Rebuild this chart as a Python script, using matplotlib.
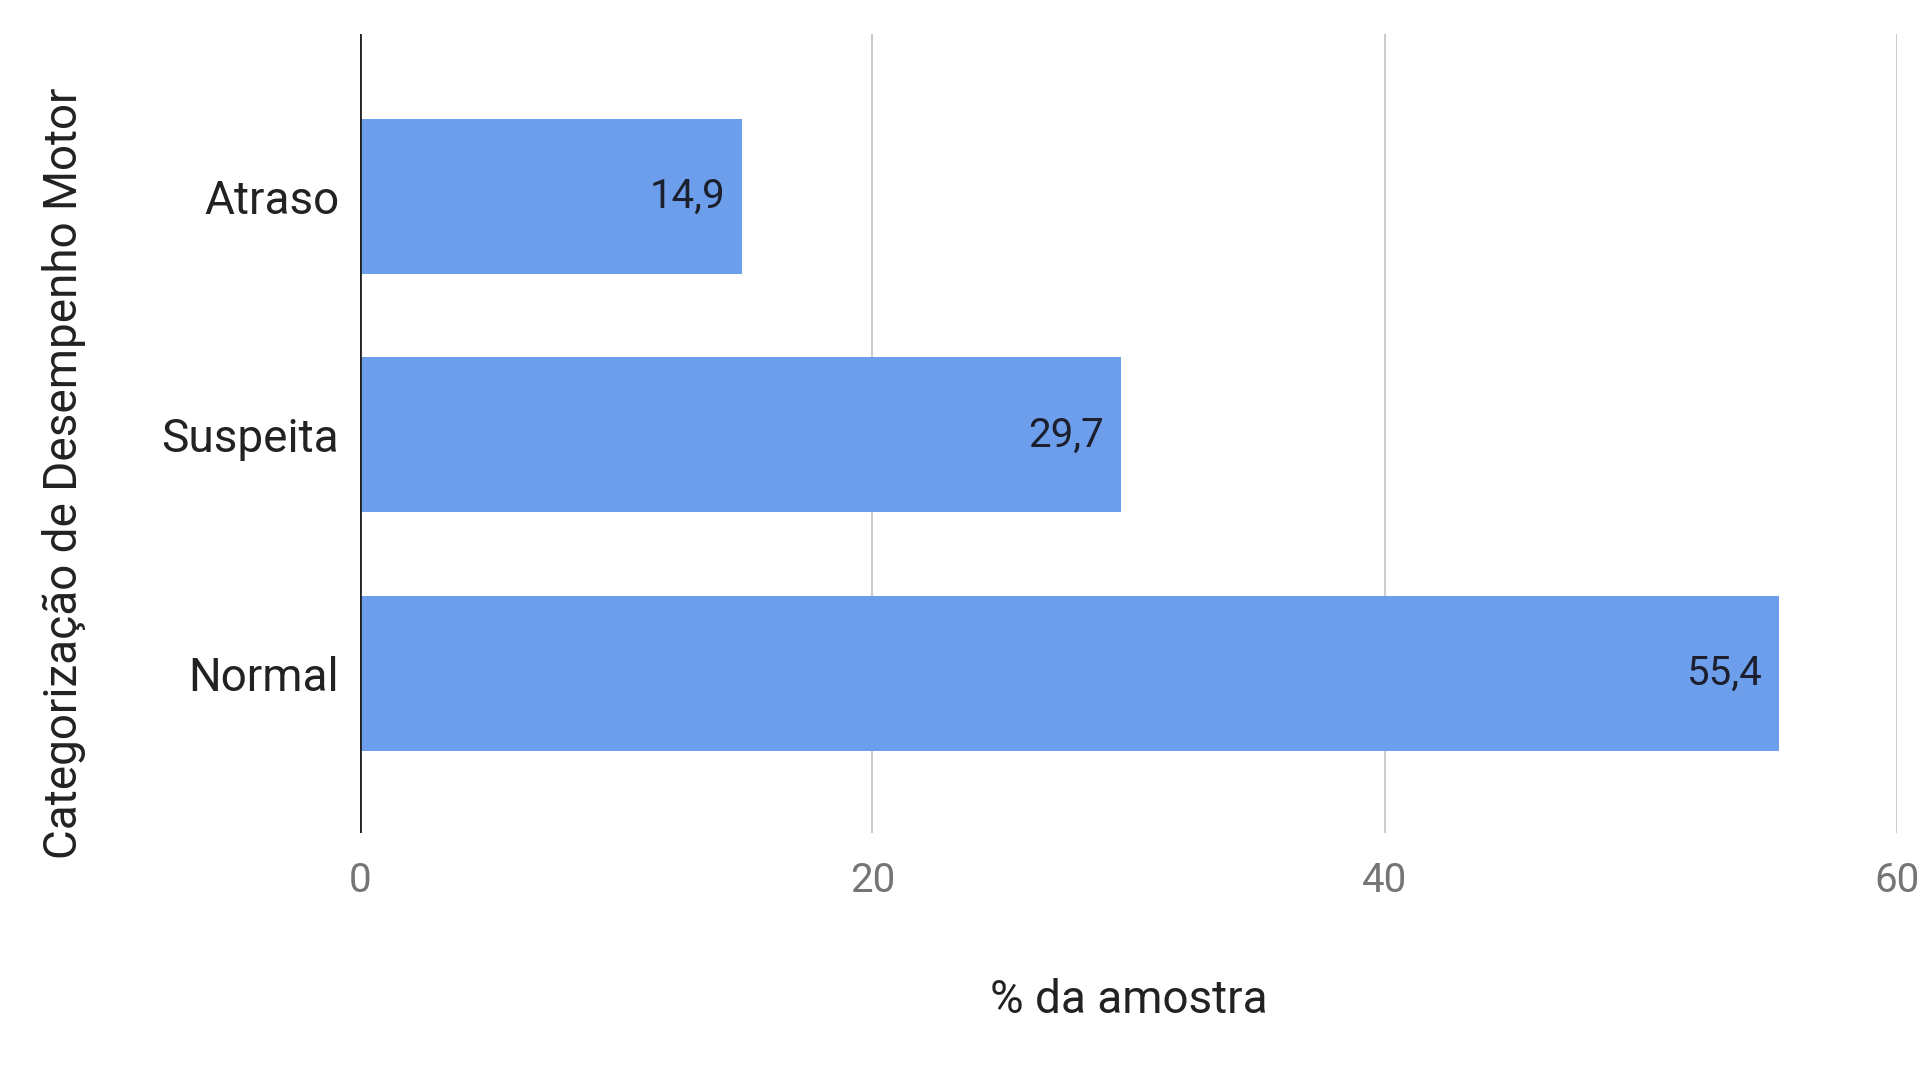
import matplotlib
matplotlib.use("Agg")
import matplotlib.pyplot as plt

categorias = ["Atraso", "Suspeita", "Normal"]
valores = [14.9, 29.7, 55.4]
rotulos = ["14,9", "29,7", "55,4"]
xticks = [0, 20, 40, 60]

plt.rcParams['font.family'] = ['Roboto', 'DejaVu Sans']

fig = plt.figure(figsize=(19.2, 10.71), dpi=100)
ax = fig.add_axes([0.1875, 0.222, 0.8005, 0.746])

pos = list(range(len(categorias)))
ax.barh(pos, valores, height=0.65, color="#6d9eeb", zorder=3)

for p, v, r in zip(pos, valores, rotulos):
    ax.annotate(r, xy=(v, p), xytext=(-12, 0), textcoords="offset points",
                ha="right", va="center", fontsize=29, color="#1c1f2e", zorder=4)

ax.set_xlim(0, 60)
ax.set_ylim(2.67, -0.68)
ax.set_yticks(pos)
ax.set_yticklabels(categorias, fontsize=33, color="#222222")
ax.set_xticks(xticks)
ax.set_xticklabels([str(t) for t in xticks], fontsize=29, color="#757575")
ax.tick_params(axis="both", length=0)
ax.tick_params(axis="y", pad=15)
ax.tick_params(axis="x", pad=20)

for s in ax.spines.values():
    s.set_visible(False)
ax.grid(axis="x", color="#cccccc", linewidth=1.5, zorder=0)
ax.axvline(0, color="#222222", linewidth=2, zorder=5)

ax.set_xlabel("% da amostra", fontsize=33, color="#222222", labelpad=56)
ax.set_ylabel("Categorização de Desempenho Motor", fontsize=33, color="#222222")
ax.yaxis.set_label_coords(-0.178, 0.45)

fig.savefig("out.png", dpi=100, facecolor="white")
